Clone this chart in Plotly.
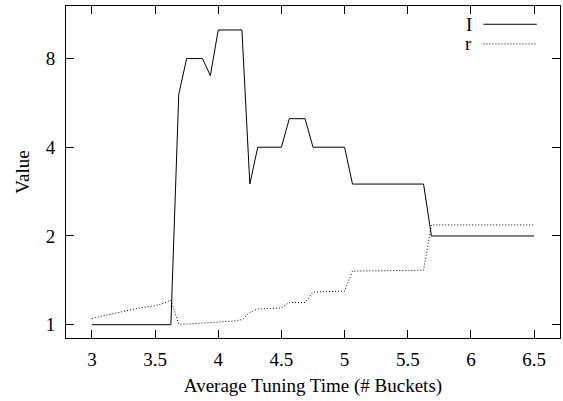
import plotly.graph_objects as go

# Data
I_x = [3.0, 3.625, 3.6875, 3.75, 3.875, 3.9375, 4.0, 4.1875, 4.25, 4.3125, 4.5, 4.5625,
       4.6875, 4.75, 5.0, 5.0625, 5.625, 5.6875, 6.5]
I_y = [1.0, 1.0, 6.05, 8.0, 8.0, 7.0, 10.0, 10.0, 3.0, 4.0, 4.0, 5.0,
       5.0, 4.0, 4.0, 3.0, 3.0, 2.0, 2.0]

r_x = [3.0, 3.125, 3.25, 3.375, 3.5, 3.5625, 3.625, 3.6875, 3.75, 3.875, 4.0, 4.125, 4.1875,
       4.25, 4.3125, 4.5, 4.5625, 4.6875, 4.75, 5.0, 5.0625, 5.625, 5.6875, 6.5]
r_y = [1.05, 1.08, 1.11, 1.14, 1.16, 1.18, 1.21, 1.005, 1.005, 1.01, 1.02, 1.03, 1.04,
       1.10, 1.13, 1.14, 1.19, 1.19, 1.29, 1.30, 1.52, 1.53, 2.18, 2.18]

x_ticks = [3, 3.5, 4, 4.5, 5, 5.5, 6, 6.5]
x_labels = ["3", "3.5", "4", "4.5", "5", "5.5", "6", "6.5"]
y_ticks = [1, 2, 4, 8]
y_labels = ["1", "2", "4", "8"]

FONT = "Liberation Serif"
FS = 19
DOT = "1px,2px"

fig = go.Figure()
fig.add_trace(go.Scatter(x=I_x, y=I_y, mode="lines", name="I",
                         line=dict(color="black", width=1)))
fig.add_trace(go.Scatter(x=r_x, y=r_y, mode="lines", name="r",
                         line=dict(color="black", width=1, dash=DOT)))

fig.update_layout(
    width=563, height=401,
    margin=dict(l=66, r=3, t=6, b=63),
    paper_bgcolor="white", plot_bgcolor="white",
    showlegend=False,
    font=dict(family=FONT, size=FS, color="black"),
)

fig.update_xaxes(
    range=[2.795, 6.705], tickvals=x_ticks, ticktext=x_labels,
    ticks="inside", ticklen=8, tickwidth=1, tickcolor="black",
    showline=True, linecolor="black", linewidth=1, mirror="ticks",
    showgrid=False, zeroline=False, ticklabelstandoff=4,
    title=dict(text="Average Tuning Time (# Buckets)", standoff=9,
               font=dict(family=FONT, size=FS)),
)
fig.update_yaxes(
    type="log", range=[-0.0452, 1.0813], tickvals=y_ticks, ticktext=y_labels,
    ticks="inside", ticklen=8, tickwidth=1, tickcolor="black",
    showline=True, linecolor="black", linewidth=1, mirror="ticks",
    showgrid=False, zeroline=False, ticklabelstandoff=6,
    title=dict(text="Value", standoff=11, font=dict(family=FONT, size=FS)),
)

# gnuplot-style legend: label then line sample to the right
legend_items = [("I", "solid", 0.945), ("r", DOT, 0.886)]
for label, dash, yy in legend_items:
    fig.add_annotation(x=0.825, y=yy, xref="paper", yref="paper", text=label,
                       showarrow=False, xanchor="right", yanchor="middle",
                       font=dict(family=FONT, size=FS))
    fig.add_shape(type="line", xref="paper", yref="paper",
                  x0=0.845, x1=0.953, y0=yy, y1=yy,
                  line=dict(color="black", width=1, dash=dash))

fig.write_html("out.html")
